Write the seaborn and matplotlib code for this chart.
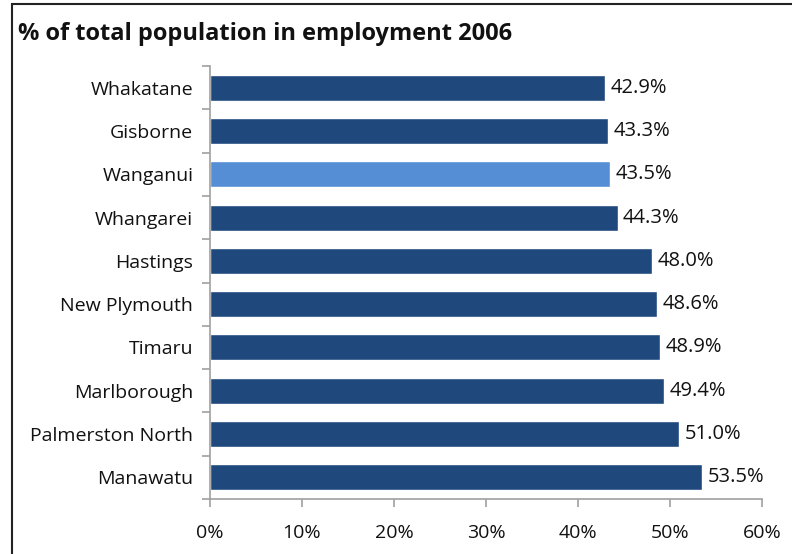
import matplotlib
matplotlib.use("Agg")
import matplotlib.pyplot as plt
from matplotlib.patches import Rectangle
from matplotlib.ticker import FuncFormatter
import seaborn as sns
import pandas as pd

# Share of total population in employment, 2006 (percent)
districts = ["Whakatane", "Gisborne", "Wanganui", "Whangarei", "Hastings",
             "New Plymouth", "Timaru", "Marlborough", "Palmerston North", "Manawatu"]
employment_pct = [42.9, 43.3, 43.5, 44.3, 48.0, 48.6, 48.9, 49.4, 51.0, 53.5]
highlight = "Wanganui"
x_ticks = [0, 10, 20, 30, 40, 50, 60]

df = pd.DataFrame({"district": districts, "pct": employment_pct})
df["group"] = ["focus" if d == highlight else "other" for d in districts]

sns.set_theme(style="white")
plt.rcParams["font.family"] = ["Open Sans", "DejaVu Sans"]

fig = plt.figure(figsize=(7.92, 5.54), dpi=100)
ax = fig.add_axes([210 / 792, 1 - 499 / 554, 552 / 792, 433 / 554])

sns.barplot(data=df, x="pct", y="district", hue="group", orient="h",
            palette={"other": "#1F497D", "focus": "#558ED5"},
            width=0.6, dodge=False, legend=False, saturation=1, ax=ax)

for cont in ax.containers:
    ax.bar_label(cont, fmt="%.1f%%", padding=4, fontsize=14.5, color="#111111")

ax.set_xlim(0, 60)
ax.set_xticks(x_ticks)
ax.xaxis.set_major_formatter(FuncFormatter(lambda v, _: f"{v:.0f}%"))
ax.set_yticks([i - 0.5 for i in range(len(districts) + 1)], minor=True)
ax.set_xlabel("")
ax.set_ylabel("")

for side in ["top", "right"]:
    ax.spines[side].set_visible(False)
for side in ["left", "bottom"]:
    ax.spines[side].set_color("#A0A0A0")
    ax.spines[side].set_linewidth(1.2)

ax.tick_params(axis="y", which="major", length=0, pad=12, labelsize=14,
               labelcolor="#111111")
ax.tick_params(axis="y", which="minor", left=True, length=6, width=1.2,
               color="#A0A0A0", direction="out")
ax.tick_params(axis="x", bottom=True, length=6, width=1.2, color="#A0A0A0",
               direction="out", pad=12, labelsize=14, labelcolor="#111111")

fig.text(18 / 792, 1 - 34 / 554, "% of total population in employment 2006",
         fontsize=17, fontweight="bold", va="center", ha="left", color="#111111")

# Chart-area frame
fig.patches.append(Rectangle((12 / 792, -0.05), 1.1, 1 - 4 / 554 + 0.05,
                             transform=fig.transFigure, fill=False,
                             edgecolor="#222222", linewidth=1.5))

fig.savefig("out.png", dpi=100)
